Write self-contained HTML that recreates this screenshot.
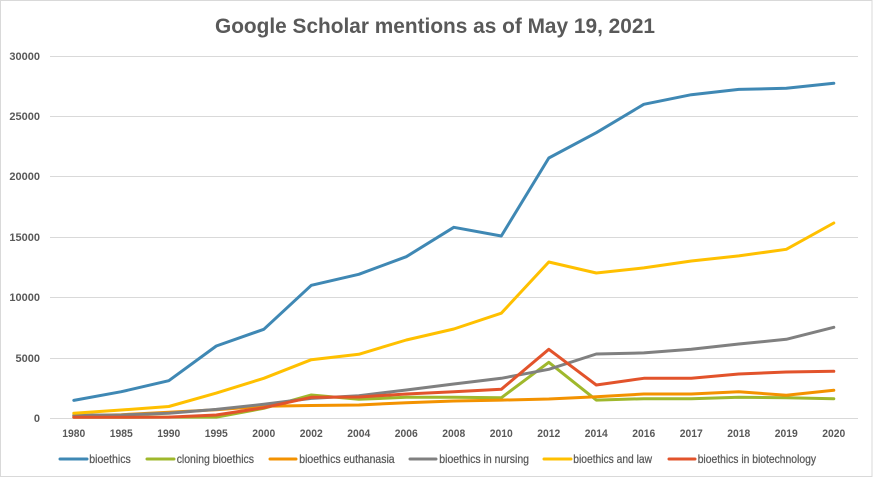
<!DOCTYPE html>
<html>
<head>
<meta charset="utf-8">
<style>
  html,body{margin:0;padding:0;background:#fff;}
  svg{display:block;}
  text{font-family:"Liberation Sans",Arial,sans-serif;fill:#595959;}
  .t{font-size:21px;font-weight:bold;}
  .ax{font-size:11px;font-weight:bold;}
  .lg{font-size:12px;stroke:#595959;stroke-width:0.25;}
  .s{fill:none;stroke-width:3;stroke-linejoin:round;stroke-linecap:round;}
</style>
</head>
<body>
<svg width="873" height="478" viewBox="0 0 873 478" xmlns="http://www.w3.org/2000/svg">
  <rect x="0" y="0" width="873" height="478" fill="#fff"/>
  <rect x="0.5" y="0.5" width="871.5" height="476" fill="none" stroke="#d9d9d9" stroke-width="1"/>

  <text class="t" x="435" y="33" text-anchor="middle" textLength="440" lengthAdjust="spacingAndGlyphs">Google Scholar mentions as of May 19, 2021</text>

  <!-- gridlines -->
  <g stroke="#d9d9d9" stroke-width="1">
    <line x1="50" y1="56.5" x2="858" y2="56.5"/>
    <line x1="50" y1="116.5" x2="858" y2="116.5"/>
    <line x1="50" y1="176.5" x2="858" y2="176.5"/>
    <line x1="50" y1="237.5" x2="858" y2="237.5"/>
    <line x1="50" y1="297.5" x2="858" y2="297.5"/>
    <line x1="50" y1="358.5" x2="858" y2="358.5"/>
    <line x1="50" y1="418.5" x2="858" y2="418.5"/>
  </g>

  <!-- y labels -->
  <g class="ax" text-anchor="end">
    <text class="ax" x="40" y="60">30000</text>
    <text class="ax" x="40" y="120">25000</text>
    <text class="ax" x="40" y="180">20000</text>
    <text class="ax" x="40" y="241">15000</text>
    <text class="ax" x="40" y="301">10000</text>
    <text class="ax" x="40" y="362">5000</text>
    <text class="ax" x="40" y="422">0</text>
  </g>

  <!-- x labels -->
  <g text-anchor="middle">
    <text class="ax" x="73.8" y="437" textLength="23" lengthAdjust="spacingAndGlyphs">1980</text>
    <text class="ax" x="121.3" y="437" textLength="23" lengthAdjust="spacingAndGlyphs">1985</text>
    <text class="ax" x="168.8" y="437" textLength="23" lengthAdjust="spacingAndGlyphs">1990</text>
    <text class="ax" x="216.3" y="437" textLength="23" lengthAdjust="spacingAndGlyphs">1995</text>
    <text class="ax" x="263.8" y="437" textLength="23" lengthAdjust="spacingAndGlyphs">2000</text>
    <text class="ax" x="311.3" y="437" textLength="23" lengthAdjust="spacingAndGlyphs">2002</text>
    <text class="ax" x="358.8" y="437" textLength="23" lengthAdjust="spacingAndGlyphs">2004</text>
    <text class="ax" x="406.3" y="437" textLength="23" lengthAdjust="spacingAndGlyphs">2006</text>
    <text class="ax" x="453.8" y="437" textLength="23" lengthAdjust="spacingAndGlyphs">2008</text>
    <text class="ax" x="501.3" y="437" textLength="23" lengthAdjust="spacingAndGlyphs">2010</text>
    <text class="ax" x="548.8" y="437" textLength="23" lengthAdjust="spacingAndGlyphs">2012</text>
    <text class="ax" x="596.3" y="437" textLength="23" lengthAdjust="spacingAndGlyphs">2014</text>
    <text class="ax" x="643.8" y="437" textLength="23" lengthAdjust="spacingAndGlyphs">2016</text>
    <text class="ax" x="691.3" y="437" textLength="23" lengthAdjust="spacingAndGlyphs">2017</text>
    <text class="ax" x="738.8" y="437" textLength="23" lengthAdjust="spacingAndGlyphs">2018</text>
    <text class="ax" x="786.3" y="437" textLength="23" lengthAdjust="spacingAndGlyphs">2019</text>
    <text class="ax" x="833.8" y="437" textLength="23" lengthAdjust="spacingAndGlyphs">2020</text>
  </g>

  <!-- series -->
  <polyline class="s" stroke="#3f88b4" points="73.8,400.4 121.3,391.7 168.8,380.7 216.3,346.0 263.8,329.3 311.3,285.3 358.8,274.3 406.3,256.7 453.8,227.3 501.3,236.0 548.8,158.0 596.3,132.7 643.8,104.3 691.3,94.7 738.8,89.4 786.3,88.3 833.8,83.3"/>
  <polyline class="s" stroke="#9fb82c" points="73.8,417.3 121.3,417.3 168.8,417.1 216.3,417.1 263.8,408.3 311.3,395.0 358.8,399.3 406.3,397.3 453.8,397.3 501.3,397.8 548.8,362.3 596.3,400.1 643.8,398.7 691.3,398.7 738.8,397.3 786.3,397.8 833.8,398.7"/>
  <polyline class="s" stroke="#f39200" points="73.8,415.9 121.3,414.7 168.8,412.3 216.3,409.8 263.8,406.2 311.3,405.5 358.8,405.0 406.3,402.7 453.8,401.0 501.3,400.1 548.8,399.0 596.3,396.7 643.8,394.0 691.3,394.0 738.8,391.7 786.3,395.3 833.8,390.3"/>
  <polyline class="s" stroke="#808080" points="73.8,415.3 121.3,415.0 168.8,413.3 216.3,409.4 263.8,404.3 311.3,398.4 358.8,395.7 406.3,390.0 453.8,384.0 501.3,378.3 548.8,369.3 596.3,354.0 643.8,352.9 691.3,349.3 738.8,344.0 786.3,339.3 833.8,327.3"/>
  <polyline class="s" stroke="#ffc000" points="73.8,413.3 121.3,410.0 168.8,406.5 216.3,393.1 263.8,378.3 311.3,359.7 358.8,354.3 406.3,340.0 453.8,329.0 501.3,313.2 548.8,262.0 596.3,273.0 643.8,267.9 691.3,261.0 738.8,255.9 786.3,249.3 833.8,223.0"/>
  <polyline class="s" stroke="#e2532b" points="73.8,417.3 121.3,417.3 168.8,417.1 216.3,415.0 263.8,407.7 311.3,397.3 358.8,397.0 406.3,394.0 453.8,391.7 501.3,389.3 548.8,349.3 596.3,385.0 643.8,378.3 691.3,378.3 738.8,374.0 786.3,372.0 833.8,371.3"/>

  <!-- legend -->
  <g stroke-width="3" stroke-linecap="round">
    <line x1="60" y1="459" x2="87" y2="459" stroke="#3f88b4"/>
    <line x1="147" y1="459" x2="174" y2="459" stroke="#9fb82c"/>
    <line x1="270" y1="459" x2="296" y2="459" stroke="#f39200"/>
    <line x1="410" y1="459" x2="436" y2="459" stroke="#808080"/>
    <line x1="544" y1="459" x2="571" y2="459" stroke="#ffc000"/>
    <line x1="669" y1="459" x2="695" y2="459" stroke="#e2532b"/>
  </g>
  <text class="lg" x="89.3" y="463" textLength="41.4" lengthAdjust="spacingAndGlyphs">bioethics</text>
  <text class="lg" x="176.7" y="463" textLength="77.3" lengthAdjust="spacingAndGlyphs">cloning bioethics</text>
  <text class="lg" x="299.3" y="463" textLength="95.3" lengthAdjust="spacingAndGlyphs">bioethics euthanasia</text>
  <text class="lg" x="439.3" y="463" textLength="89.7" lengthAdjust="spacingAndGlyphs">bioethics in nursing</text>
  <text class="lg" x="573.3" y="463" textLength="78.7" lengthAdjust="spacingAndGlyphs">bioethics and law</text>
  <text class="lg" x="697.7" y="463" textLength="118.3" lengthAdjust="spacingAndGlyphs">bioethics in biotechnology</text>
</svg>
</body>
</html>
